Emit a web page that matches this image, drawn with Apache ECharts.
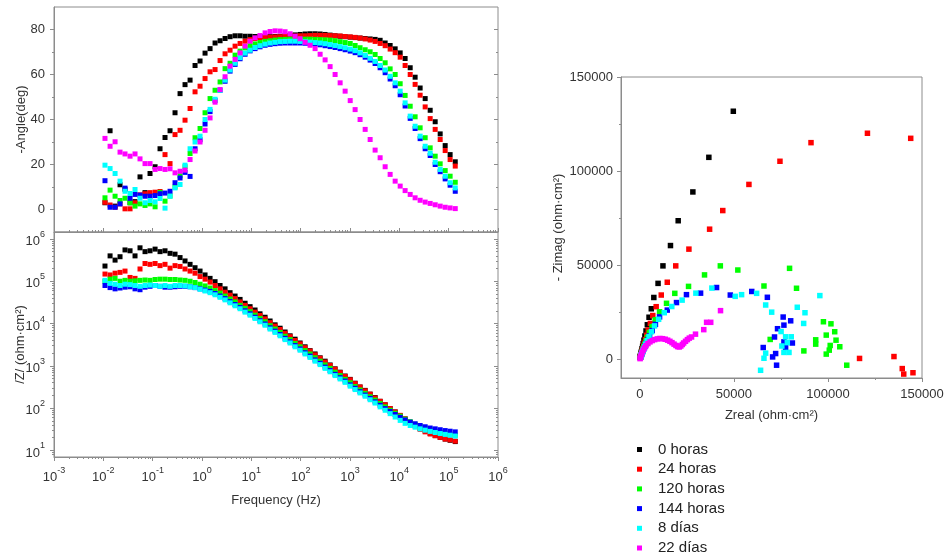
<!DOCTYPE html>
<html>
<head>
<meta charset="utf-8">
<title>EIS</title>
<script src="https://cdn.jsdelivr.net/npm/echarts@6/dist/echarts.min.js"></script>
<style>
  html, body { margin: 0; padding: 0; background: #ffffff; }
  #chart { width: 946px; height: 559px; }
</style>
</head>
<body>
<div id="chart"></div>
<script>
// ---- data -------------------------------------------------------------
const names = ['0 horas', '24 horas', '120 horas', '144 horas', '8 días', '22 días'];

// frequencies (Hz), low to high
const freq = [
  0.0108, 0.0137, 0.0173, 0.0218, 0.0275, 0.0348, 0.0439, 0.0554, 0.0700, 0.0884,
  0.112, 0.141, 0.178, 0.225, 0.284, 0.359, 0.453, 0.573, 0.723, 0.913,
  1.153, 1.457, 1.840, 2.324, 2.935, 3.707, 4.682, 5.914, 7.470, 9.433,
  11.9, 15.0, 19.0, 24.0, 30.3, 38.3, 48.3, 61.1, 77.1, 97.4,
  123, 155, 196, 248, 313, 395, 499, 631, 797, 1010,
  1270, 1600, 2030, 2560, 3230, 4080, 5160, 6510, 8230, 10400,
  13100, 16600, 20900, 26400, 33400, 42200, 53300, 67300, 85000, 107000,
  136000
];

// -phase angle (deg)
const phase0h = [3, 35, 1.5, 11, 9, 3, 3.5, 14.5, 7.5, 16, 19, 27, 32, 35, 43, 51.5, 55.5, 57.5, 64, 66,
  69.5, 71.5, 74, 75, 76, 76.8, 77.2, 77.2, 77, 77, 76.9, 76.8, 76.8, 76.8, 76.9, 77, 77.2, 77.4, 77.6, 77.8,
  78, 78.1, 78.1, 78, 77.8, 77.5, 77.2, 77, 76.8, 76.6, 76.4, 76.2, 76, 75.8, 75.6, 75.2, 74, 72.9, 71.4, 69.6,
  67.1, 63, 58.8, 54, 49.3, 44.1, 39, 33.6, 28.4, 24.4, 21.2];
const phase24h = [3.2, 2, 1, 2.5, 0.3, 0.3, 3, 6.5, 7, 7.5, 7.7, 8, 24.4, 20.4, 33.3, 35.2, 39.7, 44.9, 52.3, 54.8,
  58.2, 61.2, 62.2, 66.2, 69.2, 70.8, 72.6, 73.8, 74.8, 75.5, 76, 76.3, 76.5, 76.6, 76.7, 76.8, 76.9, 77, 77.1, 77.2,
  77.2, 77.3, 77.4, 77.4, 77.4, 77.3, 77.2, 77.1, 76.9, 76.7, 76.5, 76.2, 75.8, 75.3, 74.7, 73.8, 72.8, 71.3, 69.7, 67.7,
  64, 60, 55.6, 50.8, 45.6, 40.4, 35.6, 31.1, 26.2, 22.2, 19.3];
const phase120h = [5.2, 8.6, 5.9, 4, 5, 3, 1.5, 2.5, 1.8, 2.5, 1.2, 7.6, 3.7, 6, 10, 15, 19, 24.9, 31.9, 36,
  43, 49.3, 53, 56.7, 62.6, 65, 68.6, 70.4, 71.8, 72.8, 73.6, 74.2, 74.7, 75, 75.3, 75.5, 75.6, 75.7, 75.7, 75.7,
  75.7, 75.7, 75.6, 75.5, 75.4, 75.3, 75, 74.6, 74.2, 73.8, 72.9, 71.9, 71, 70.1, 68.9, 67.1, 65.2, 62.5, 60, 55.9,
  50.7, 45.9, 41.2, 36.3, 31.9, 27.4, 23.7, 20.3, 17.3, 14.8, 12.1];
const phase144h = [12.8, 1, 1, 2.5, 9.5, 5, 6.7, 6.4, 5.9, 5.9, 6.2, 7, 7.3, 8.1, 11.9, 14, 16.5, 14.7, 27, 31,
  38, 43.5, 48.5, 53, 57, 61.5, 64.5, 67, 69, 70.5, 71.5, 72.3, 73, 73.4, 73.7, 73.9, 74, 74, 74, 74,
  73.9, 73.8, 73.5, 73.2, 72.8, 72.4, 72, 71.5, 71, 70.4, 69.7, 68.8, 67.7, 66.4, 64.9, 63, 60.8, 58, 55, 51,
  46, 40.5, 36, 31.5, 27, 24, 20, 16.8, 13.6, 10.8, 8.1];
const phase8d = [19.7, 18.2, 16, 12.6, 8.1, 7.1, 8.9, 5, 3, 4, 3.4, 4.9, 0.6, 5.9, 9.6, 11.1, 19.7, 27, 30, 32.6,
  40, 44.5, 49, 53, 57.5, 62, 65, 67.5, 69.5, 70.8, 72, 72.8, 73.5, 74, 74.3, 74.6, 74.7, 74.8, 74.8, 74.7,
  74.6, 74.4, 74.2, 74, 73.7, 73.3, 72.9, 72.4, 71.9, 71.3, 70.6, 69.6, 68.5, 67.2, 65.8, 64, 62, 59.2, 56.3, 52.6,
  47.4, 41.5, 37, 32.6, 28.1, 25, 21, 17.8, 14.8, 11.9, 9.6];
const phase22d = [31.6, 28.1, 30.1, 25.5, 24.7, 23.7, 24.7, 22.5, 20.4, 20.4, 17.8, 18.2, 17.8, 18.1, 16.3, 17, 17.5, 22.2, 26, 30,
  35.2, 40.7, 47.7, 53.3, 59, 63.7, 66.7, 69.6, 72.6, 74.8, 76.3, 77.3, 78.5, 79.1, 79.4, 79.3, 79, 78.1, 77, 75.9,
  74.3, 73, 71.5, 69, 66.5, 63.5, 60, 56.3, 52.6, 48.4, 44.4, 40, 35.6, 31.1, 26.4, 23, 19, 15.6, 12.6, 10.4,
  8.4, 6.7, 5.2, 4.1, 3.3, 2.7, 2.1, 1.5, 1, 0.7, 0.4];

// |Z| (ohm·cm²)
const modZ0h = [229000, 398000, 316000, 380000, 550000, 525000, 398000, 617000, 501000, 525000,
  575000, 501000, 525000, 457000, 437000, 363000, 302000, 251000, 209000, 174000,
  141000, 117000, 97700, 79400, 66100, 53700, 44700, 37200, 30200, 25100,
  20900, 17000, 14100, 11500, 9330, 7760, 6310, 5130, 4270, 3470,
  2820, 2290, 1910, 1550, 1290, 1050, 851, 708, 575, 479,
  389, 316, 263, 214, 178, 145, 120, 97.7, 81.3, 66.1,
  55.0, 45.7, 38.9, 33.1, 28.8, 25.1, 22.4, 20.4, 18.6, 17.4, 16.2];
const modZ24h = [148000, 141000, 155000, 162000, 174000, 123000, 117000, 195000, 263000, 251000,
  263000, 234000, 251000, 204000, 234000, 224000, 195000, 174000, 155000, 129000,
  112000, 95500, 79400, 66100, 55000, 46800, 38900, 32400, 26900, 22400,
  18600, 15500, 12900, 10500, 8710, 7240, 5890, 4900, 3980, 3310,
  2690, 2240, 1820, 1510, 1230, 1020, 832, 692, 562, 468,
  380, 316, 257, 214, 174, 145, 120, 97.7, 81.3, 67.6,
  56.2, 45.7, 38.0, 31.6, 27.5, 24.5, 22.4, 20.4, 18.6, 17.8, 16.6];
const modZ120h = [100000, 112000, 117000, 100000, 105000, 100000, 102000, 105000, 107000, 105000,
  110000, 112000, 112000, 110000, 110000, 107000, 105000, 100000, 93300, 85100,
  77600, 69200, 60300, 52500, 44700, 38000, 32400, 26900, 22900, 19100,
  15800, 13200, 11000, 8910, 7410, 6170, 5010, 4170, 3390, 2820,
  2290, 1910, 1550, 1290, 1050, 871, 708, 589, 479, 398,
  324, 269, 224, 186, 155, 129, 107, 89.1, 75.9, 64.6,
  55.0, 47.9, 41.7, 37.2, 33.9, 30.9, 28.5, 26.6, 25.1, 24.0, 22.9];
const modZ144h = [79400, 70800, 66100, 69200, 72400, 74100, 66100, 63100, 72400, 75900,
  79400, 75900, 72400, 72400, 74100, 75900, 75900, 74100, 70800, 66100,
  61700, 57500, 51300, 44700, 38900, 33100, 28200, 24000, 20000, 17000,
  14100, 11700, 9770, 7940, 6610, 5500, 4470, 3720, 3020, 2510,
  2040, 1700, 1380, 1150, 933, 776, 631, 525, 437, 355,
  295, 245, 204, 170, 141, 117, 97.7, 83.2, 70.8, 60.3,
  52.5, 46.8, 42.7, 38.9, 36.3, 33.9, 32.4, 30.9, 29.5, 28.5, 27.5];
const modZ8d = [105000, 89100, 85100, 79400, 85100, 83200, 79400, 75900, 79400, 81300,
  79400, 75900, 79400, 75900, 79400, 79400, 77600, 74100, 70800, 64600,
  58900, 53700, 47900, 41700, 36300, 30900, 26300, 22400, 18600, 15800,
  13200, 11000, 9120, 7410, 6170, 5130, 4170, 3470, 2820, 2340,
  1910, 1580, 1290, 1070, 871, 724, 589, 490, 407, 331,
  275, 229, 191, 158, 132, 107, 89.1, 74.1, 61.7, 51.3,
  43.7, 38.9, 35.5, 32.4, 30.2, 28.2, 26.6, 25.1, 24.0, 22.9, 21.9];

// Nyquist points [Zreal, -Zimag] (ohm·cm²)
const nyq0h = [[49700, 131800], [36700, 107300], [28200, 88900], [20400, 73600], [16300, 60400], [12300, 49600],
  [9700, 40300], [7450, 32800], [6100, 26800], [4900, 22300], [4000, 18300], [3300, 15000], [2700, 12300],
  [2200, 10100], [1800, 8300], [1500, 6800], [1200, 5600], [1000, 4600], [800, 3800], [650, 3100], [550, 2500],
  [450, 2100], [350, 1700], [300, 1400], [250, 1150], [200, 950]];
const nyq24h = [[144000, 117400], [121000, 120100], [91000, 115100], [74500, 105200], [58000, 92900], [44100, 79000],
  [37100, 69100], [26100, 58500], [19100, 49600], [14600, 40900], [11400, 34100], [8700, 27900], [6900, 23200],
  [5600, 19000], [4500, 15500], [3700, 12700], [3000, 10400], [2400, 8500], [2000, 7000], [1600, 5700],
  [1300, 4700], [1100, 3800], [900, 3100], [700, 2500], [600, 2100], [500, 1700], [400, 1400], [300, 1100],
  [116800, 400], [135100, 1400], [139500, -5000], [140300, -7900], [145200, -7200]];
const nyq120h = [[42800, 49600], [52100, 47400], [79600, 48300], [34400, 44800], [66000, 38900], [83300, 37700],
  [25900, 38700], [18600, 35000], [14200, 29700], [10500, 25200], [8200, 21000], [6500, 17300], [5100, 14200],
  [4000, 11600], [3200, 9500], [2600, 7800], [2100, 6400], [1700, 5200], [1400, 4300], [1100, 3500], [900, 2800],
  [750, 2300], [600, 1900], [500, 1500], [400, 1200],
  [97600, 19900], [101600, 18800], [103600, 14600], [69300, 10500], [99100, 12800], [93500, 10300], [93500, 8000],
  [104300, 10100], [106300, 6600], [101200, 7300], [100700, 4800], [99100, 2700], [87200, 4400], [110000, -3200]];
const nyq144h = [[40800, 38100], [32300, 35100], [48100, 34100], [59500, 36000], [67800, 32900], [24800, 34300],
  [19500, 30100], [14600, 26100], [10500, 22500], [8300, 18500], [6600, 15200], [5200, 12400], [4200, 10200],
  [3300, 8300], [2700, 6800], [2100, 5500], [1700, 4500], [1400, 3700], [1100, 3000], [900, 2400], [700, 2000],
  [600, 1600], [500, 1300],
  [76200, 22400], [80200, 20400], [76600, 18100], [73200, 16200], [71600, 11800], [76600, 9200], [81100, 8600],
  [77500, 6200], [65600, 6200], [70600, 1200], [72200, 3000], [72700, -3200]];
const nyq8d = [[95700, 33800], [38300, 37800], [29800, 35100], [50700, 33400], [54100, 34300], [62100, 35000],
  [22500, 31400], [17000, 28000], [13000, 24700], [10000, 21200], [7800, 17700], [6200, 14600], [4900, 12000],
  [3900, 9800], [3100, 8000], [2500, 6500], [2000, 5300], [1600, 4300], [1300, 3500], [1000, 2800], [800, 2300],
  [650, 1900], [500, 1500], [400, 1200],
  [66900, 28800], [70100, 25000], [83700, 27600], [87800, 24700], [87100, 19000], [75100, 14700], [77500, 11900],
  [80500, 11900], [78400, 8800], [75500, 7000], [76600, 3600], [79300, 3600], [66900, 3200], [66000, 500],
  [64200, -5900]];
const nyq22d = [[150, 300], [300, 800], [500, 1500], [800, 2400], [1200, 3500], [1800, 4800], [2500, 6000],
  [3300, 7200], [4300, 8300], [5400, 9200], [6600, 9900], [7900, 10400], [9300, 10800], [10700, 11000],
  [12100, 10900], [13500, 10600], [14800, 10100], [16000, 9500], [17100, 8800], [18200, 8000], [19200, 7300],
  [20100, 6700], [21000, 6500], [21800, 7000], [22600, 7800], [23300, 8600], [24300, 9500], [25300, 10400],
  [26300, 11200], [27500, 11800], [29600, 13300], [34000, 15700], [35500, 19600], [37700, 19600], [42900, 25800]];

// tick values
const freqDecades = [1e-3, 1e-2, 1e-1, 1, 10, 100, 1000, 1e4, 1e5, 1e6];
const zDecades = [10, 100, 1000, 1e4, 1e5, 1e6];
const angleTicks = [0, 20, 40, 60, 80];
const angleMinor = [10, 30, 50, 70];
const nyqTicks = [0, 50000, 100000, 150000];
const nyqMinor = [25000, 75000, 125000];

// ---- styling ----------------------------------------------------------
const colors = ['#000000', '#ff0000', '#00ff00', '#0000ff', '#00ffff', '#ff00ff'];
const FRAME = '#8c8c8c';
const INK = '#333333';
const FONT = '"Liberation Sans", Arial, Helvetica, sans-serif';

function logMinor(lo, hi) {
  const out = [];
  for (let e = Math.floor(Math.log10(lo)); e < Math.ceil(Math.log10(hi)); e++) {
    for (let k = 2; k <= 9; k++) {
      const v = k * Math.pow(10, e);
      if (v > lo && v < hi) out.push(v);
    }
  }
  return out;
}
const freqMinor = logMinor(1e-3, 1e6);
const zMinor = logMinor(7, 1.46e6);

// "10" with a raised exponent
const powLabel = {
  fontFamily: FONT,
  formatter: v => '{b|10}{s|' + Math.round(Math.log10(v)) + '}',
  rich: {
    b: { fontSize: 13, color: INK, fontFamily: FONT, lineHeight: 18, verticalAlign: 'bottom' },
    s: { fontSize: 9, color: INK, fontFamily: FONT, lineHeight: 10, verticalAlign: 'top' }
  }
};
const plainLabel = { fontSize: 13, color: INK, fontFamily: FONT, formatter: v => String(v) };
const nameStyle = { fontSize: 13, color: INK, fontFamily: FONT };

function axis(o) {
  const a = {
    gridIndex: o.grid,
    type: o.type || 'value',
    position: o.pos,
    min: o.min,
    max: o.max,
    axisLine: { show: !!o.line, onZero: false, lineStyle: { color: FRAME, width: 1 } },
    axisTick: {
      show: true, inside: !!o.inside, length: o.len || 4,
      customValues: o.ticks, lineStyle: { color: FRAME, width: 1 }
    },
    axisLabel: { show: false },
    splitLine: { show: false },
    minorTick: { show: false },
    axisPointer: { show: false },
    silent: true
  };
  if (o.labels) {
    a.axisLabel = Object.assign({ show: true, customValues: o.labels, margin: o.margin || 9 },
      o.label || plainLabel);
  }
  if (o.name) {
    a.name = o.name;
    a.nameLocation = 'middle';
    a.nameGap = o.nameGap;
    a.nameTextStyle = nameStyle;
    a.nameMoveOverlap = false;
  }
  return a;
}

const gridBase = { show: true, borderColor: FRAME, borderWidth: 1, backgroundColor: 'transparent',
  containLabel: false, outerBoundsMode: 'none' };

const xAxis = [
  // phase panel
  axis({ grid: 0, type: 'log', pos: 'bottom', min: 1e-3, max: 1e6, line: true, inside: true, ticks: freqDecades }),
  axis({ grid: 0, type: 'log', pos: 'bottom', min: 1e-3, max: 1e6, inside: true, len: 2, ticks: freqMinor }),
  // |Z| panel
  axis({ grid: 1, type: 'log', pos: 'bottom', min: 1e-3, max: 1e6, line: true, ticks: freqDecades,
    labels: freqDecades, label: powLabel, margin: 9, name: 'Frequency (Hz)', nameGap: 37 }),
  axis({ grid: 1, type: 'log', pos: 'bottom', min: 1e-3, max: 1e6, len: 2, ticks: freqMinor }),
  // Nyquist panel
  axis({ grid: 2, pos: 'bottom', min: -10000, max: 150000, line: true, ticks: nyqTicks,
    labels: nyqTicks, margin: 10, name: 'Zreal (ohm·cm²)', nameGap: 31 }),
  axis({ grid: 2, pos: 'bottom', min: -10000, max: 150000, len: 2, ticks: nyqMinor })
];

const yAxis = [
  // phase panel
  axis({ grid: 0, pos: 'left', min: -10, max: 90, line: true, ticks: angleTicks, labels: angleTicks,
    name: '-Angle(deg)', nameGap: 26 }),
  axis({ grid: 0, pos: 'left', min: -10, max: 90, len: 2, ticks: angleMinor }),
  axis({ grid: 0, pos: 'right', min: -10, max: 90, inside: true, ticks: angleTicks }),
  axis({ grid: 0, pos: 'right', min: -10, max: 90, inside: true, len: 2, ticks: angleMinor }),
  // |Z| panel
  axis({ grid: 1, type: 'log', pos: 'left', min: 7, max: 1.46e6, line: true, ticks: zDecades,
    labels: zDecades, label: powLabel, name: '/Z/ (ohm·cm²)', nameGap: 27 }),
  axis({ grid: 1, type: 'log', pos: 'left', min: 7, max: 1.46e6, len: 2, ticks: zMinor }),
  axis({ grid: 1, type: 'log', pos: 'right', min: 7, max: 1.46e6, inside: true, ticks: zDecades }),
  axis({ grid: 1, type: 'log', pos: 'right', min: 7, max: 1.46e6, inside: true, len: 2, ticks: zMinor }),
  // Nyquist panel
  axis({ grid: 2, pos: 'left', min: -10000, max: 150000, line: true, ticks: nyqTicks, labels: nyqTicks,
    margin: 8, name: '- Zimag (ohm·cm²)', nameGap: 56 }),
  axis({ grid: 2, pos: 'left', min: -10000, max: 150000, len: 2, ticks: nyqMinor })
];

const phaseSets = [phase0h, phase24h, phase120h, phase144h, phase8d, phase22d];
const modSets = [modZ0h, modZ24h, modZ120h, modZ144h, modZ8d];
const nyqSets = [nyq0h, nyq24h, nyq120h, nyq144h, nyq8d, nyq22d];

function scatter(name, color, data, xi, yi, size) {
  return {
    type: 'scatter', name, data, xAxisIndex: xi, yAxisIndex: yi,
    symbol: 'rect', symbolSize: size,
    itemStyle: { color, opacity: 1 },
    emphasis: { disabled: true },
    clip: true, silent: true, animation: false
  };
}

const series = [];
names.forEach((n, k) => {
  series.push(scatter(n, colors[k], freq.map((f, i) => [f, phaseSets[k][i]]), 0, 0, 5));
});
names.forEach((n, k) => {
  if (modSets[k]) series.push(scatter(n, colors[k], freq.map((f, i) => [f, modSets[k][i]]), 2, 4, 5));
});
names.forEach((n, k) => {
  series.push(scatter(n, colors[k], nyqSets[k], 4, 8, 5.5));
});

const chart = echarts.init(document.getElementById('chart'), null, { renderer: 'canvas' });
chart.setOption({
  backgroundColor: '#ffffff',
  animation: false,
  textStyle: { fontFamily: FONT },
  grid: [
    Object.assign({ left: 54, top: 7, width: 444, height: 225 }, gridBase),
    Object.assign({ left: 54, top: 232, width: 444, height: 225 }, gridBase),
    Object.assign({ left: 621, top: 77, width: 301, height: 301 }, gridBase)
  ],
  xAxis,
  yAxis,
  legend: {
    data: names,
    orient: 'vertical',
    left: 632,
    top: 437,
    height: 140,
    icon: 'rect',
    itemWidth: 5,
    itemHeight: 5,
    itemGap: 4.7,
    selectedMode: false,
    textStyle: { fontSize: 15, lineHeight: 15, color: '#222222', fontFamily: FONT, padding: [0, 0, 0, 11] }
  },
  series
});
</script>
</body>
</html>
